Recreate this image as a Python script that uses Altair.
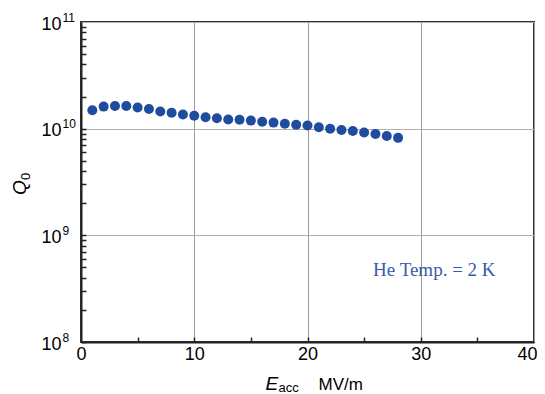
import altair as alt
import pandas as pd

# Data
e_acc = list(range(1, 29))
q0 = [1.49e10, 1.61e10, 1.63e10, 1.63e10, 1.58e10, 1.53e10, 1.45e10, 1.41e10,
      1.36e10, 1.32e10, 1.28e10, 1.25e10, 1.22e10, 1.21e10, 1.19e10, 1.16e10,
      1.14e10, 1.11e10, 1.09e10, 1.07e10, 1.03e10, 1.00e10, 0.97e10, 0.95e10,
      0.92e10, 0.89e10, 0.855e10, 0.82e10]

x_label_values = [0, 10, 20, 30, 40]
x_tick_values = [5, 10, 15, 20, 25, 30, 35]
y_decades = [1e8, 1e9, 1e10, 1e11]
y_tick_values = [m * 10 ** k for k in (8, 9, 10) for m in range(1, 10)]

note_text = "He Temp. = 2 K"
note_e = [31.2]
note_q = [4.75e8]

df = pd.DataFrame({"E": e_acc, "Q": q0})
note_df = pd.DataFrame({"E": note_e, "Q": note_q})

W, H = 453, 320
FONT = "Liberation Sans"
xs = alt.Scale(domain=[0, 40], nice=False)
ys = alt.Scale(type="log", domain=[1e8, 1e11], nice=False)

points = alt.Chart(df).mark_circle(size=100, color="#1f4c9e", opacity=1).encode(
    x=alt.X("E:Q", scale=xs, axis=alt.Axis(
        orient="bottom", values=x_label_values, ticks=False, format="d",
        labelFontSize=18, labelPadding=3, labelFlush=False,
        labelAlign={"condition": {"test": "datum.value == 40", "value": "right"},
                    "value": "center"},
        labelOffset={"condition": {"test": "datum.value == 40", "value": 3},
                     "value": 0},
        grid=True, gridColor="#9a9a9a", gridWidth=1,
        domainColor="#222222", domainWidth=2,
        title="E", titleFontSize=19, titleFontStyle="italic",
        titleAlign="left", titleBaseline="alphabetic", titleX=184, titleY=47)),
    y=alt.Y("Q:Q", scale=ys, axis=alt.Axis(
        orient="left", values=y_decades, ticks=False, labelExpr="'10'",
        labelFontSize=18, labelPadding=20, labelBaseline="middle", labelOffset=2,
        grid=True, gridColor="#b0b0b0", gridWidth=1,
        domainColor="#222222", domainWidth=2,
        title="Q", titleFontSize=19, titleFontStyle="italic", titleAngle=270,
        titleAlign="center", titleBaseline="alphabetic", titleX=-56, titleY=165)),
)

extra1 = alt.Chart(df).mark_point(opacity=0).encode(
    x=alt.X("E:Q", scale=xs, axis=alt.Axis(
        orient="bottom", labels=False, ticks=False, domain=False, grid=False,
        title="acc", titleFontSize=13, titleAlign="left",
        titleBaseline="alphabetic", titleX=197, titleY=49)),
    y=alt.Y("Q:Q", scale=ys, axis=alt.Axis(
        orient="left", values=y_decades, ticks=False, domain=False, grid=False,
        labelExpr="'' + round(log(datum.value) / LN10)",
        labelFontSize=12, labelPadding=19, labelAlign="left",
        labelBaseline="middle", labelOffset=-5,
        title="0", titleFontSize=13, titleAngle=270, titleAlign="center",
        titleBaseline="alphabetic", titleX=-52, titleY=154)),
)

ticks = alt.Chart(df).mark_point(opacity=0).encode(
    x=alt.X("E:Q", scale=xs, axis=alt.Axis(
        orient="top", offset=-H, values=x_tick_values, labels=False,
        domain=False, grid=False, ticks=True, tickSize=5, tickWidth=1.5,
        tickColor="#222222", title=None)),
    y=alt.Y("Q:Q", scale=ys, axis=alt.Axis(
        orient="right", offset=-W, values=y_tick_values, labels=False,
        domain=False, grid=False, ticks=True, tickSize=5, tickWidth=1.5,
        tickColor="#222222", title=None)),
)

extra2 = alt.Chart(df).mark_point(opacity=0).encode(
    x=alt.X("E:Q", scale=xs, axis=alt.Axis(
        orient="bottom", labels=False, ticks=False, domain=False, grid=False,
        title="MV/m", titleFontSize=17, titleAlign="left",
        titleBaseline="alphabetic", titleX=237, titleY=47)),
    y=alt.Y("Q:Q", scale=ys, axis=None),
)

note = alt.Chart(note_df).mark_text(
    text=note_text, font="Liberation Serif", fontSize=19, color="#3a5ca8",
    align="center", baseline="middle").encode(
    x=alt.X("E:Q", scale=xs, axis=None),
    y=alt.Y("Q:Q", scale=ys, axis=None),
)

chart = alt.layer(points, extra1, ticks, extra2, note).resolve_axis(
    x="independent", y="independent"
).properties(
    width=W, height=H,
    autosize=alt.AutoSizeParams(type="none"),
    padding={"left": 73, "top": 14, "right": 3, "bottom": 52},
).configure_axis(
    labelFont=FONT, titleFont=FONT, labelColor="black", titleColor="black",
    titleFontWeight="normal",
).configure_view(stroke="#333333", strokeWidth=2)

chart.save("out.html", embed_options={"renderer": "svg", "actions": False})
